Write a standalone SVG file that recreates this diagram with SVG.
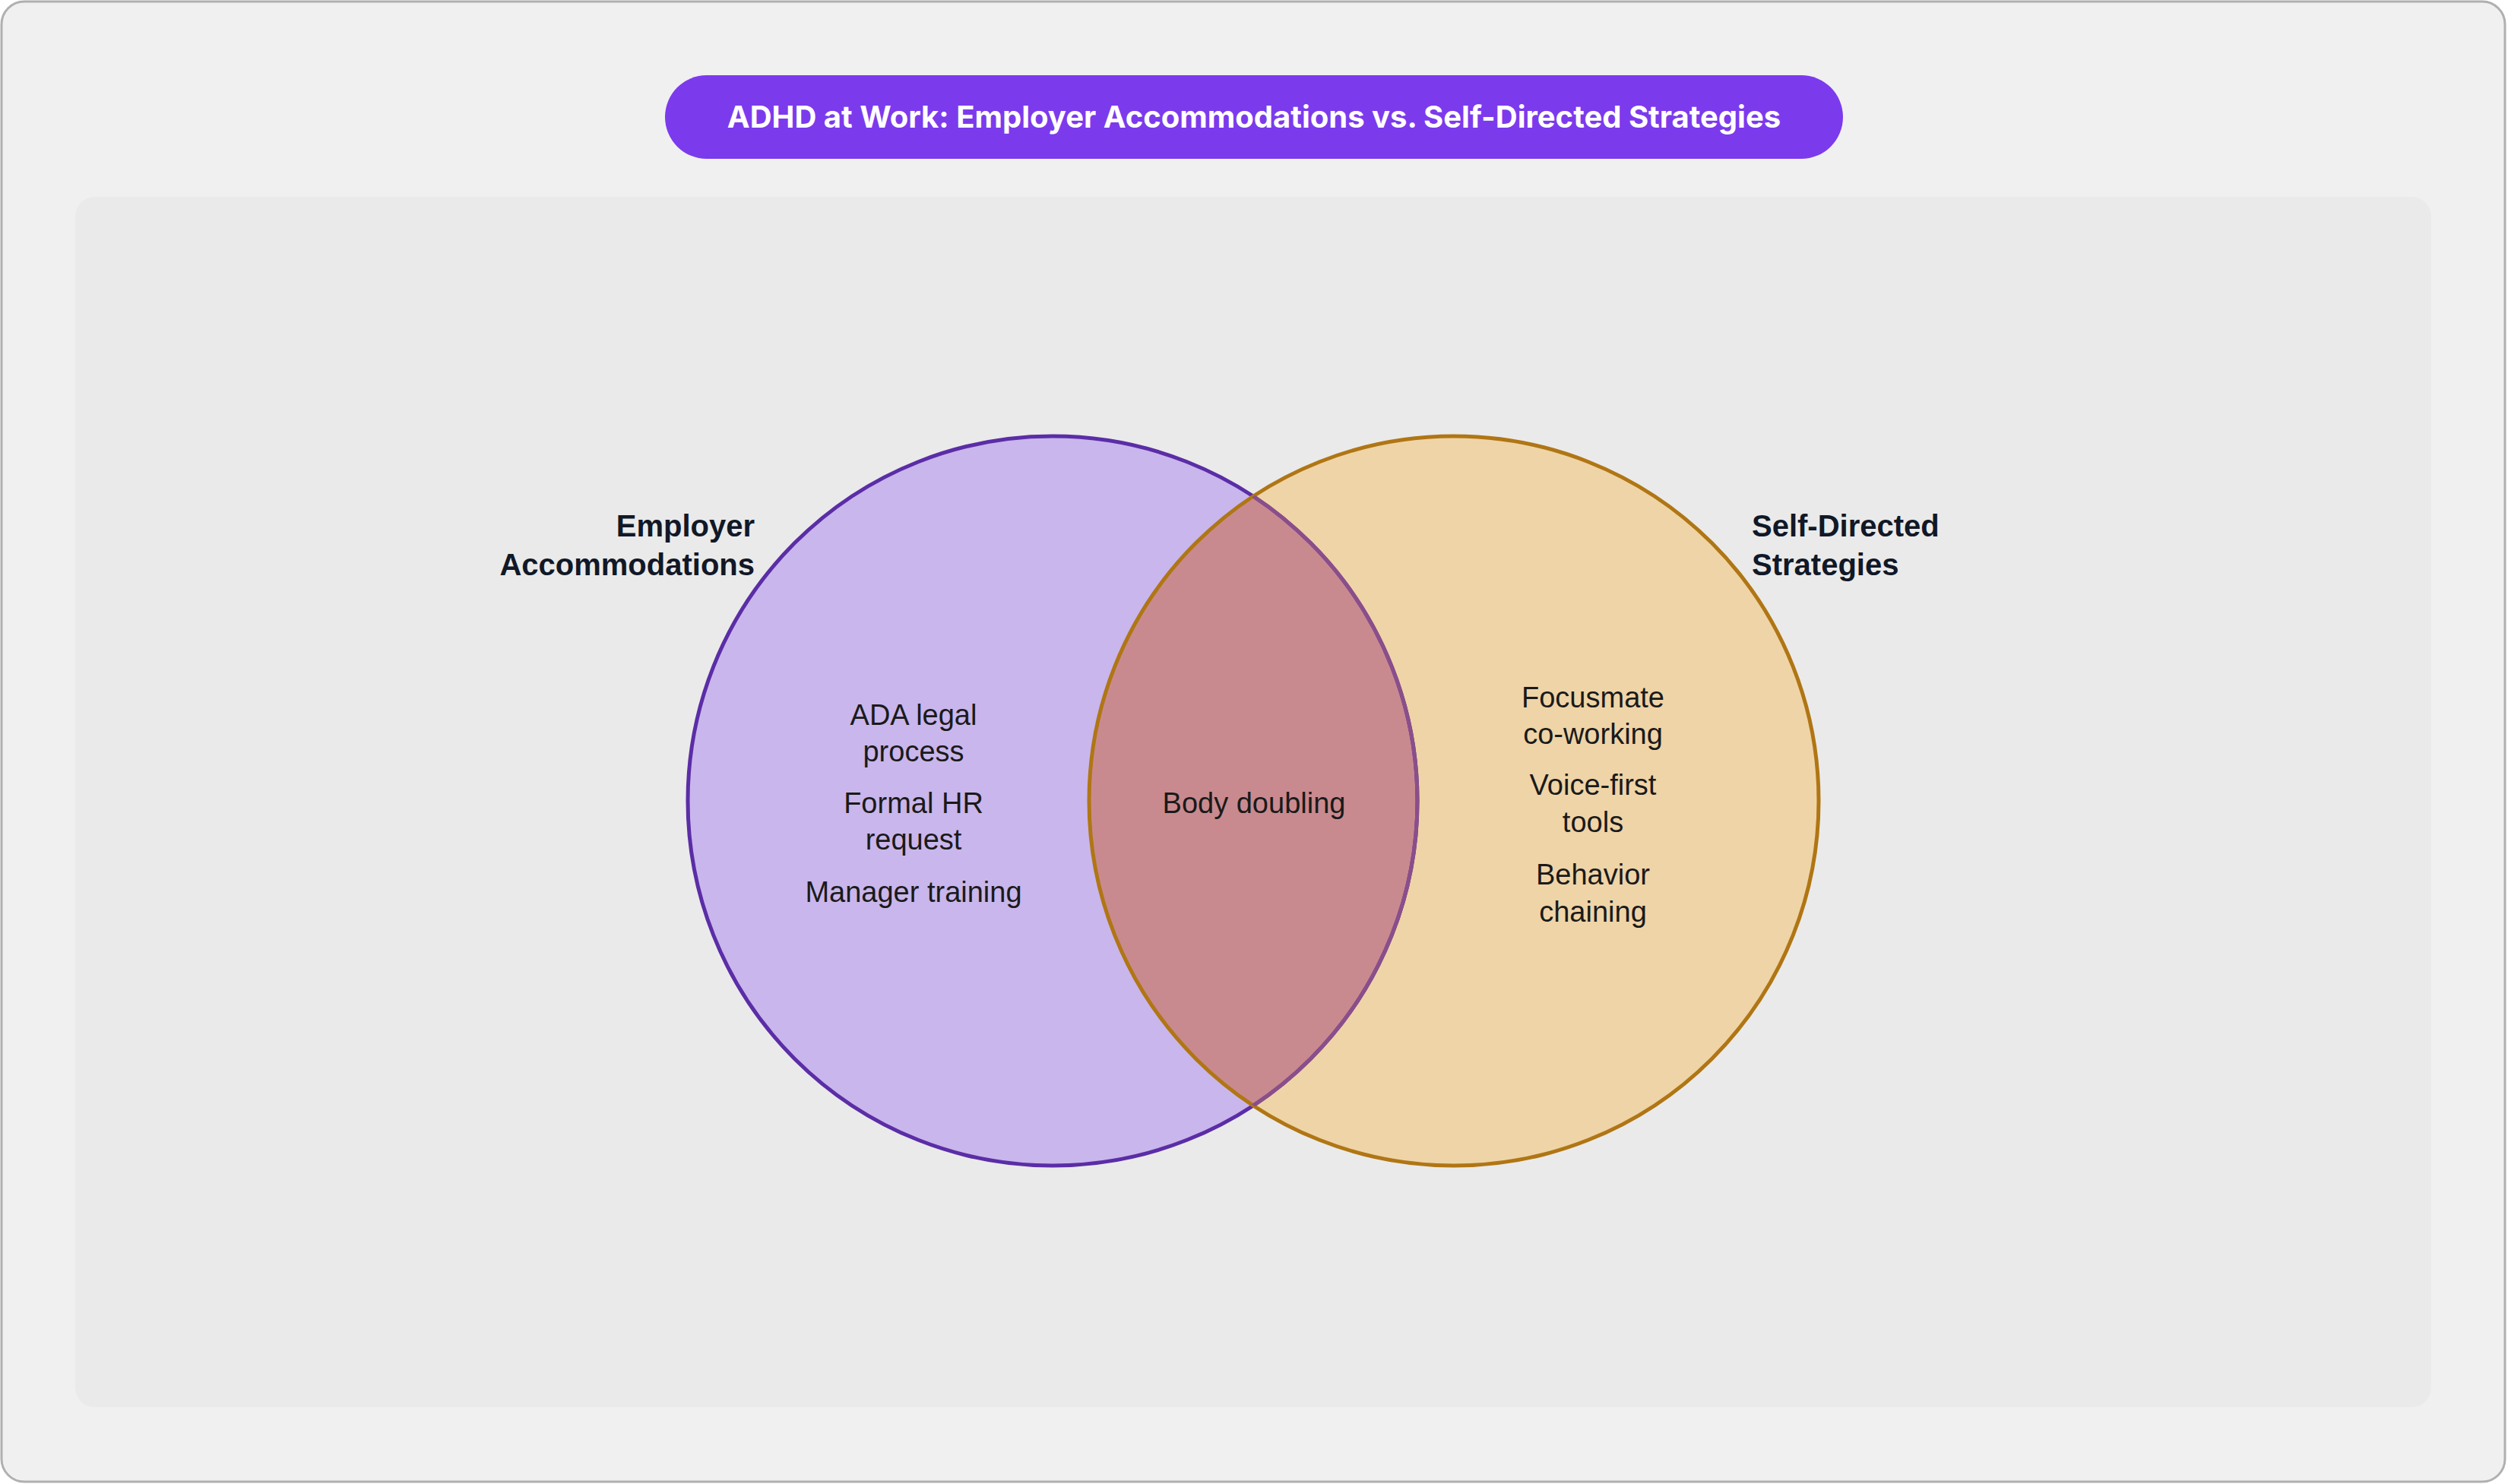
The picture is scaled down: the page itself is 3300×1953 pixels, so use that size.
<svg xmlns="http://www.w3.org/2000/svg" width="3300" height="1953" viewBox="0 0 3300 1953">
<style>
.lbl{font-family:"Liberation Sans",Arial,sans-serif;font-size:38px;fill:#1a1a1a;text-anchor:middle}
.set{font-family:"Liberation Sans",Arial,sans-serif;font-size:40px;font-weight:bold;fill:#111827}
</style>
<defs>
<clipPath id="clipR"><circle cx="1913" cy="1054" r="480"/></clipPath>
</defs>
<rect x="2" y="2" width="3294" height="1948" rx="30" fill="#f0f0f0" stroke="#b0b0b0" stroke-width="3"/>
<rect x="99" y="259" width="3100" height="1593" rx="26" fill="#eaeaea"/>
<g id="title">
<rect x="875" y="99" width="1550" height="110" rx="55" fill="#7c3aed"/>
<text x="1650" y="168" text-anchor="middle" font-family="Inter,'Open Sans',sans-serif" font-weight="bold" font-size="40" fill="#ffffff">ADHD at Work: Employer Accommodations vs. Self-Directed Strategies</text>
</g>
<g id="employer">
<circle cx="1385" cy="1054" r="480" fill="#c9b6ec"/>
</g>
<g id="self">
<circle cx="1913" cy="1054" r="480" fill="#efd4a7"/>
</g>
<g id="overlap">
<circle cx="1385" cy="1054" r="480" fill="#c98a8f" clip-path="url(#clipR)"/>
</g>
<g id="outlines" fill="none" stroke-width="5">
<circle cx="1385" cy="1054" r="480" stroke="#5b2da6"/>
<circle cx="1913" cy="1054" r="480" stroke="#b07614"/>
<circle cx="1385" cy="1054" r="480" stroke="#8a4f8a" stroke-width="5" clip-path="url(#clipR)"/>
</g>
<g id="labels">
<text class="set" x="993" y="706" text-anchor="end">Employer</text>
<text class="set" x="993" y="757" text-anchor="end">Accommodations</text>
<text class="set" x="2305" y="706">Self-Directed</text>
<text class="set" x="2305" y="757">Strategies</text>
<text class="lbl" x="1202" y="954">ADA legal</text>
<text class="lbl" x="1202" y="1002">process</text>
<text class="lbl" x="1202" y="1070">Formal HR</text>
<text class="lbl" x="1202" y="1118">request</text>
<text class="lbl" x="1202" y="1187">Manager training</text>
<text class="lbl" x="1650" y="1070">Body doubling</text>
<text class="lbl" x="2096" y="931">Focusmate</text>
<text class="lbl" x="2096" y="979">co-working</text>
<text class="lbl" x="2096" y="1046">Voice-first</text>
<text class="lbl" x="2096" y="1095">tools</text>
<text class="lbl" x="2096" y="1164">Behavior</text>
<text class="lbl" x="2096" y="1213">chaining</text>
</g>
</svg>
